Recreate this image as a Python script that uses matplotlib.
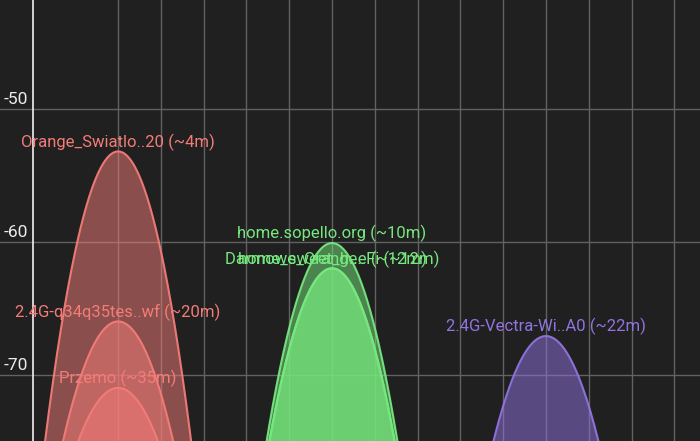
import numpy as np
import matplotlib.pyplot as plt

plt.rcParams['font.family'] = ['Roboto', 'DejaVu Sans']

# channel, peak dBm, label, colour
channels = [1, 1, 1, 6, 6, 6, 11]
levels = [-53.2, -66.0, -71.0, -60.1, -62.0, -62.0, -67.1]
labels = ["Orange_Swiatlo..20 (~4m)", "2.4G-q34q35tes..wf (~20m)", "Przemo (~35m)",
          "home.sopello.org (~10m)", "Darmowe_Orange..Fi (~12m)", "home_sweet_h..e (~12m)",
          "2.4G-Vectra-Wi..A0 (~22m)"]
colors = ["#f47c78", "#f47c78", "#f47c78", "#76e87e", "#76e87e", "#76e87e", "#9174e0"]
yticks = [-50, -60, -70]

bg = "#202020"
fig = plt.figure(figsize=(7, 4.41), dpi=100, facecolor=bg)
ax = fig.add_axes([0, 0, 1, 1], facecolor=bg)
ax.set_xlim(-1.76, 14.6)
ax.set_ylim(-75.0, -41.8)

for c in range(1, 15):
    ax.axvline(c, color="#626262", lw=1, zorder=0)
for y in yticks:
    ax.axhline(y, color="#626262", lw=1, zorder=0)
    ax.text(-1.68, y + 0.15, str(y), color="#ececec", fontsize=12.5, va="bottom", ha="left")
ax.axvline(-1, color="#f0f0f0", lw=1.2, zorder=1)

for ch, lv, lab, col in zip(channels, levels, labels, colors):
    x = np.linspace(ch - 2.5, ch + 2.5, 300)
    y = -100 + (lv + 100) * (1 - ((x - ch) / 2.5) ** 2)
    ax.fill_between(x, y, -100, color=col, alpha=0.5, lw=0, zorder=2)
    ax.plot(x, y, color=col, lw=1.5, alpha=0.95, zorder=3)
    ax.text(ch, lv + 0.7, lab, color=col, fontsize=12, ha="center", va="center", zorder=4)

ax.axis("off")
fig.savefig("out.png", dpi=100, facecolor=bg)
